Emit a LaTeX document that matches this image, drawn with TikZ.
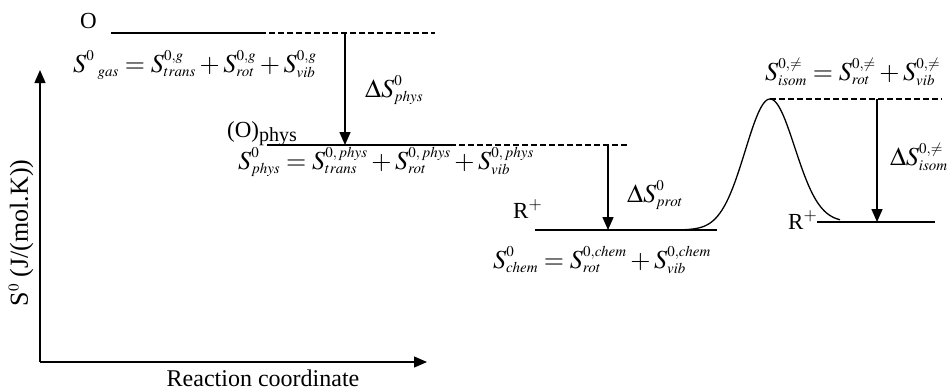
\documentclass[tikz,border=0pt]{standalone}
\usepackage{mathptmx}
\usepackage{fontspec}
\setmainfont{Liberation Serif}
\usetikzlibrary{arrows.meta}
\DeclareMathSizes{26}{26}{15}{11}
\newcommand\scriptshift{\fontdimen13\textfont2=12pt \fontdimen14\textfont2=12pt \fontdimen15\textfont2=12pt \fontdimen16\textfont2=4.5pt \fontdimen17\textfont2=4.5pt }
\newcommand\eqtext[1]{$\scriptshift #1$}
\begin{document}
\begin{tikzpicture}[x=1pt,y=-1pt,
  lbl/.style={inner sep=0pt,font=\fontsize{23}{26}\selectfont},
  axlbl/.style={inner sep=0pt,font=\fontsize{26}{28}\selectfont},
  eqn/.style={inner sep=0pt,font=\fontsize{26}{28}\selectfont},
  level/.style={line width=1.2pt},
  ext/.style={line width=1.1pt,dash pattern=on 6pt off 3pt},
  drop/.style={line width=1.5pt,-{Triangle[width=11pt,length=13pt]}},
  axis/.style={line width=1.3pt,-{Triangle[width=11pt,length=13pt]}},
  curve/.style={line width=1.3pt}]
\useasboundingbox (0,0) rectangle (949,391);
% axes
\coordinate (orig) at (40,362);
\coordinate (ytip) at (40,70);
\coordinate (xtip) at (427,362);
\draw[axis] (orig) -- (ytip);
\draw[axis] (orig) -- (xtip);
\node[axlbl,rotate=90] (ylab) at (21,233) {S$^0$ (J/(mol.K))};
\node[lbl,font=\fontsize{24}{26}\selectfont,anchor=base] (xlab) at (263,386) {Reaction coordinate};
% gas level
\coordinate (g1) at (111,33); \coordinate (g2) at (260,33); \coordinate (g3) at (435,33);
\draw[level] (g1) -- (g2);
\draw[ext] (g2) -- (g3);
\node[lbl,anchor=base west] (O) at (80,28) {O};
\node[eqn,anchor=west] (eqgas) at (73,65) {\eqtext{{S^{0}}_{\;gas} = S^{0,g}_{trans} + S^{0,g}_{rot} + S^{0,g}_{vib}}};
% phys level
\coordinate (p1) at (267,145); \coordinate (p2) at (450,145); \coordinate (p3) at (628,145);
\draw[level] (p1) -- (p2);
\draw[ext] (p2) -- (p3);
\node[lbl,anchor=base west] (Ophys) at (227,137) {(O)\raisebox{-4pt}{\fontsize{20}{22}\selectfont phys}};
\node[eqn,anchor=west] (eqphys) at (238,162) {\eqtext{S^0_{phys} = S^{0,\,phys}_{trans} + S^{0,\,phys}_{rot} + S^{0,\,phys}_{vib}}};
\coordinate (a1s) at (345,33); \coordinate (a1e) at (345,145);
\draw[drop] (a1s) -- (a1e);
\node[eqn,anchor=west] (dphys) at (365,90) {\eqtext{\Delta S^0_{phys}}};
% chem level
\coordinate (c1) at (535,230); \coordinate (c2) at (717,230);
\draw[level] (c1) -- (c2);
\node[lbl,anchor=base west] (R1) at (513,218) {R$^+$};
\node[eqn,anchor=west] (eqchem) at (493,260) {\eqtext{S^0_{chem} = S^{0,chem}_{rot} + S^{0,chem}_{vib}}};
\coordinate (a2s) at (608,145); \coordinate (a2e) at (608,230);
\draw[drop] (a2s) -- (a2e);
\node[eqn,anchor=west] (dprot) at (627,195) {\eqtext{\Delta S^0_{prot}}};
% barrier
\draw[curve] plot[domain=655:770,samples=70,smooth] (\x,{230-131*exp(-((\x-770)/35)^2)})
  -- plot[domain=770:840,samples=50,smooth] (\x,{222-123*exp(-((\x-770)/35)^2)});
\coordinate (ts1) at (770,99); \coordinate (ts2) at (942,99);
\draw[ext] (ts1) -- (ts2);
\node[eqn,anchor=west] (eqisom) at (765,72) {\eqtext{S^{0,\neq}_{isom} = S^{0,\neq}_{rot} + S^{0,\neq}_{vib}}};
\coordinate (r1) at (817,222); \coordinate (r2) at (935,222);
\draw[level] (r1) -- (r2);
\node[lbl,anchor=base west] (R2) at (788,229) {R$^+$};
\coordinate (a3s) at (877,99); \coordinate (a3e) at (877,222);
\draw[drop] (a3s) -- (a3e);
\node[eqn,anchor=east] (disom) at (948,157) {\eqtext{\Delta S^{0,\neq}_{isom}}};
\end{tikzpicture}
\end{document}
